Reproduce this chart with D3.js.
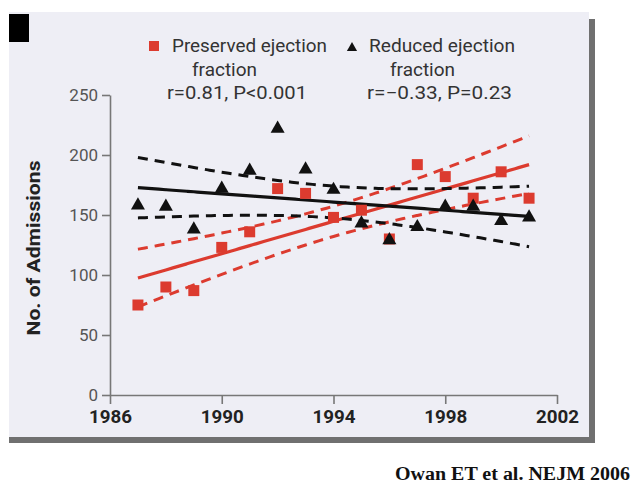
<!DOCTYPE html>
<html><head><meta charset="utf-8">
<script src="https://cdn.jsdelivr.net/npm/d3@7"></script>
<style>body{margin:0;background:#fff}svg{display:block}</style>
</head><body>
<script>
const years = [1987,1988,1989,1990,1991,1992,1993,1994,1995,1996,1997,1998,1999,2000,2001];
const preserved = [75,90,87,123,136,172,168,148,154,130,192,182,164,186,164];
const reduced = [158,157,138,172,187,222,188,171,143,129,140,157,157,145,148];
const xTicks = [1986,1990,1994,1998,2002];
const yTicks = [0,50,100,150,200,250];
const legendPreserved = ["Preserved ejection","fraction","r=0.81, P<0.001"];
const legendReduced = ["Reduced ejection","fraction","r=\u22120.33, P=0.23"];
const yTitle = "No. of Admissions";
const citation = "Owan ET et al. NEJM 2006";
const tCrit = 2.160; // t(0.975, df=13)

const W=632,H=494;
const red="#dc3b2f", blk="#111";
const svg=d3.select("body").append("svg").attr("width",W).attr("height",H);

// panel
svg.append("rect").attr("x",9).attr("y",12).attr("width",580).attr("height",425).attr("fill","#eeeef5");
svg.append("rect").attr("x",589).attr("y",19).attr("width",6).attr("height",424).attr("fill","#707070");
svg.append("rect").attr("x",9).attr("y",437).attr("width",586).attr("height",6).attr("fill","#707070");
svg.append("rect").attr("x",9).attr("y",14).attr("width",20).attr("height",28).attr("fill","#000");

const x=d3.scaleLinear().domain([1986,2002]).range([110,557]);
const y=d3.scaleLinear().domain([0,250]).range([395,95]);

// axes
const gy=svg.append("g").attr("transform","translate(110,0)")
  .call(d3.axisLeft(y).tickValues(yTicks).tickSize(8).tickSizeOuter(0).tickPadding(4));
gy.selectAll("text").attr("font-family","Roboto").attr("font-size",17).attr("fill","#555");
const gx=svg.append("g").attr("transform","translate(0,395)")
  .call(d3.axisBottom(x).tickValues(xTicks).tickFormat(d3.format("d")).tickSize(9).tickSizeOuter(0).tickPadding(6));
gx.selectAll("text").attr("font-family","Roboto").attr("font-size",18).attr("font-weight","bold").attr("fill","#222").attr("textLength",43).attr("lengthAdjust","spacingAndGlyphs");
svg.selectAll(".domain, .tick line").attr("stroke","#777").attr("stroke-width",1.6);

svg.append("text").attr("transform","translate(40,248) rotate(-90)").attr("text-anchor","middle")
  .attr("font-family","Roboto").attr("font-weight","bold").attr("font-size",18).attr("fill","#222")
  .attr("textLength",175).attr("lengthAdjust","spacingAndGlyphs").text(yTitle);

// regression with 95% CI of the mean
function fit(vals){
  const n=vals.length, mx=d3.mean(years), my=d3.mean(vals);
  let sxx=0,sxy=0; years.forEach((yr,i)=>{sxx+=(yr-mx)**2; sxy+=(yr-mx)*(vals[i]-my);});
  const b=sxy/sxx, a=my-b*mx;
  let ss=0; years.forEach((yr,i)=>{ss+=(vals[i]-a-b*yr)**2;});
  const s=Math.sqrt(ss/(n-2));
  const grid=d3.range(years[0],years[n-1]+0.001,0.25);
  const f=t=>a+b*t, hw=t=>tCrit*s*Math.sqrt(1/n+(t-mx)**2/sxx);
  return {fit:grid.map(t=>[t,f(t)]),up:grid.map(t=>[t,f(t)+hw(t)]),lo:grid.map(t=>[t,f(t)-hw(t)])};
}
const line=d3.line().x(d=>x(d[0])).y(d=>y(d[1])).curve(d3.curveMonotoneX);
function drawFit(vals,col){
  const r=fit(vals);
  svg.append("path").attr("d",line(r.up)).attr("fill","none").attr("stroke",col).attr("stroke-width",3).attr("stroke-dasharray","10,7");
  svg.append("path").attr("d",line(r.lo)).attr("fill","none").attr("stroke",col).attr("stroke-width",3).attr("stroke-dasharray","10,7");
  svg.append("path").attr("d",line(r.fit)).attr("fill","none").attr("stroke",col).attr("stroke-width",3.2);
}
drawFit(preserved,red);
drawFit(reduced,blk);

svg.append("g").selectAll("path").data(preserved).join("path")
  .attr("transform",(d,i)=>`translate(${x(years[i])},${y(d)})`)
  .attr("d",d3.symbol(d3.symbolSquare,121)).attr("fill",red);
svg.append("g").selectAll("path").data(reduced).join("path")
  .attr("transform",(d,i)=>`translate(${x(years[i])},${y(d)})`)
  .attr("d",d3.symbol(d3.symbolTriangle,85)).attr("fill",blk);

// legend
svg.append("rect").attr("x",149).attr("y",41).attr("width",10).attr("height",10).attr("fill",red);
svg.append("path").attr("transform","translate(352,48)").attr("d",d3.symbol(d3.symbolTriangle,45)).attr("fill",blk);
const lp=[{x:249.5,w:155},{x:224.5,w:65},{x:237,w:140}];
const lr=[{x:442,w:146},{x:422.5,w:65},{x:439.5,w:145}];
const base=[52,76,99];
function legendText(lines,pos){
  lines.forEach((t,i)=>svg.append("text").attr("x",pos[i].x).attr("y",base[i]).attr("text-anchor","middle")
    .attr("font-family","Roboto").attr("font-size",18).attr("fill","#333")
    .attr("textLength",pos[i].w).attr("lengthAdjust","spacingAndGlyphs").text(t));
}
legendText(legendPreserved,lp);
legendText(legendReduced,lr);

svg.append("text").attr("x",630).attr("y",480).attr("text-anchor","end")
  .attr("font-family","Liberation Serif").attr("font-weight","bold").attr("font-size",18).attr("fill","#111")
  .attr("textLength",235).attr("lengthAdjust","spacingAndGlyphs").text(citation);
</script>
</body></html>
